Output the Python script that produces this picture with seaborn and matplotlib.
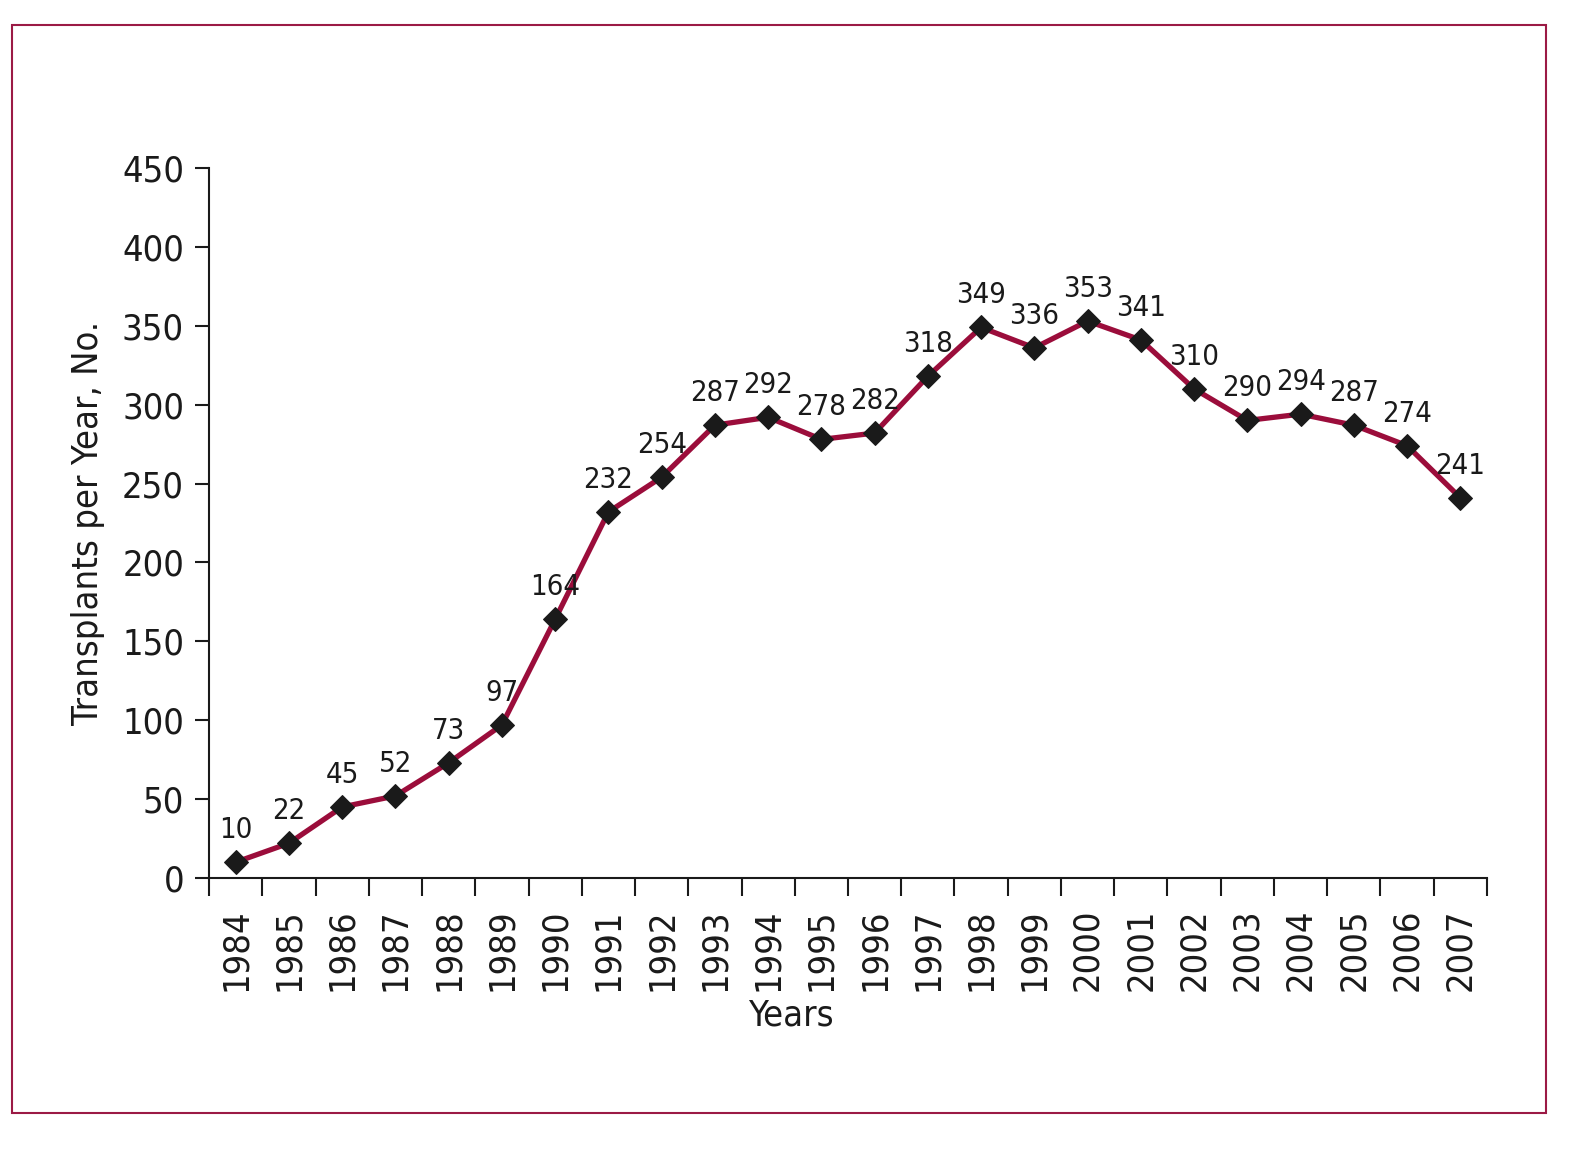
import numpy as np
import pandas as pd
import matplotlib
matplotlib.use("Agg")
import matplotlib.pyplot as plt
import seaborn as sns
from matplotlib.patches import Rectangle
from matplotlib.ticker import FixedLocator

YEARS = list(range(1984, 2008))
TRANSPLANTS = [10, 22, 45, 52, 73, 97, 164, 232, 254, 287, 292, 278, 282, 318,
               349, 336, 353, 341, 310, 290, 294, 287, 274, 241]
Y_TICKS = [0, 50, 100, 150, 200, 250, 300, 350, 400, 450]

LINE_COLOR = "#9b0d3b"
FRAME_COLOR = "#9b1a45"
INK = "#1a1a1a"

sns.set_style("white")
plt.rcParams["font.family"] = ["DejaVu Sans"]
plt.rcParams["font.stretch"] = "condensed"

df = pd.DataFrame({"year": YEARS, "count": TRANSPLANTS})

fig = plt.figure(figsize=(15.79, 11.54), dpi=100)
ax = fig.add_axes([0.1324, 0.2392, 0.8093, 0.6152])

sns.lineplot(data=df, x="year", y="count", ax=ax, color=LINE_COLOR, linewidth=3.8,
             marker="D", markersize=12, markerfacecolor=INK,
             markeredgecolor=INK, zorder=3)

for yr, val in zip(YEARS, TRANSPLANTS):
    ax.annotate(str(val), (yr, val), xytext=(0, 13), textcoords="offset points",
                ha="center", va="bottom", fontsize=21, color=INK)

ax.set_xlim(YEARS[0] - 0.5, YEARS[-1] + 0.5)
ax.set_ylim(0, 450)
ax.set_yticks(Y_TICKS)
ax.set_xticks(YEARS)
ax.set_xticklabels([str(y) for y in YEARS], rotation=90, fontsize=26, color=INK)
ax.xaxis.set_minor_locator(FixedLocator([y - 0.5 for y in YEARS] + [YEARS[-1] + 0.5]))
ax.tick_params(axis="x", which="major", bottom=True, length=0, pad=22)
ax.tick_params(axis="x", which="minor", bottom=True, length=13, width=1.5, color=INK,
               direction="out")
ax.tick_params(axis="y", left=True, length=10, width=1.5, color=INK, direction="out",
               labelsize=26, labelcolor=INK, pad=8)

ax.set_xlabel("Years", fontsize=26, color=INK)
ax.xaxis.set_label_coords(0.455, -0.17)
ax.set_ylabel("Transplants per Year, No.", fontsize=26, color=INK, labelpad=12)

for side in ["top", "right"]:
    ax.spines[side].set_visible(False)
for side in ["left", "bottom"]:
    ax.spines[side].set_color(INK)
    ax.spines[side].set_linewidth(1.5)

fig.patches.append(Rectangle((0.0076, 0.0355), 0.9715, 0.9428, transform=fig.transFigure,
                             fill=False, edgecolor=FRAME_COLOR, linewidth=1.5))

fig.savefig("out.png", dpi=100)
